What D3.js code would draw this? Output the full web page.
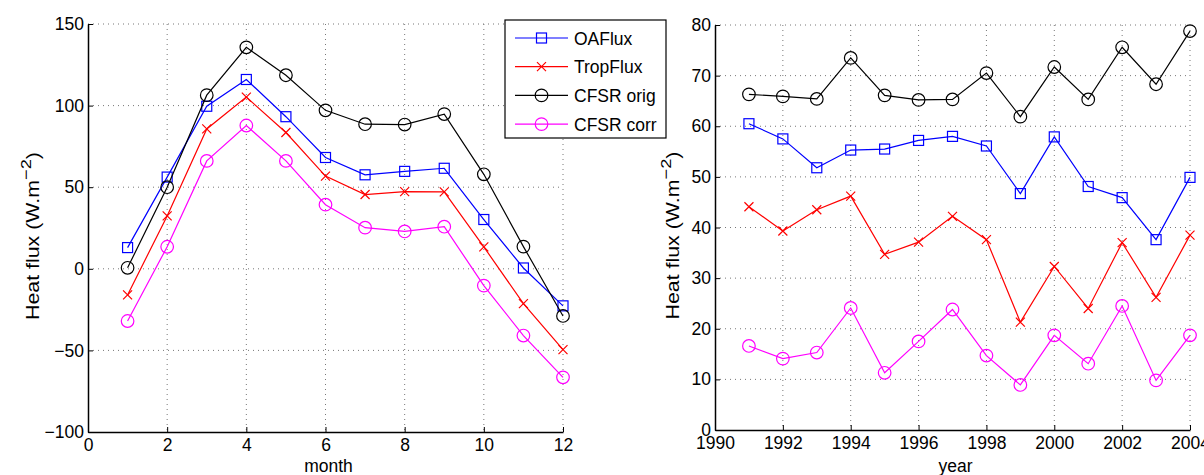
<!DOCTYPE html>
<html><head><meta charset="utf-8">
<script src="https://cdn.jsdelivr.net/npm/d3@7/dist/d3.min.js"></script>
<style>
body{margin:0;background:#fff;}
svg{display:block;font-family:"Liberation Sans",Arial,Helvetica,sans-serif;}
</style></head><body>
<svg id="c" width="1204" height="475"></svg>
<script>
// ---- data ----
const months = [1,2,3,4,5,6,7,8,9,10,11,12];
const monthOAFlux   = [13, 56.2, 99.6, 116, 93.2, 68.2, 57.6, 59.7, 61.6, 30.2, 0.5, -22.7];
const monthTropFlux = [-16, 32.4, 85.7, 105.2, 83.5, 56.8, 45.5, 47.3, 47.1, 13.4, -21.3, -49.5];
const monthCFSRorig = [0.6, 50, 106.4, 135.7, 118.6, 97.1, 88.6, 88.4, 94.8, 57.9, 13.6, -28.9];
const monthCFSRcorr = [-32, 13.5, 66.1, 87.8, 66.1, 39.3, 25.2, 22.9, 25.8, -10.3, -40.9, -66.5];

const years = [1991,1992,1993,1994,1995,1996,1997,1998,1999,2000,2001,2002,2003,2004];
const yearOAFlux   = [60.5, 57.5, 51.8, 55.3, 55.5, 57.2, 58.0, 56.1, 46.7, 57.9, 48.1, 45.9, 37.6, 49.9];
const yearTropFlux = [44.1, 39.3, 43.5, 46.2, 34.7, 37.1, 42.2, 37.6, 21.3, 32.3, 24.0, 37.0, 26.2, 38.5];
const yearCFSRorig = [66.3, 65.9, 65.4, 73.5, 66.1, 65.2, 65.3, 70.5, 61.9, 71.7, 65.3, 75.6, 68.3, 78.8];
const yearCFSRcorr = [16.6, 14.1, 15.3, 24.1, 11.3, 17.5, 23.8, 14.7, 8.9, 18.7, 13.1, 24.5, 9.8, 18.7];

const seriesNames = ["OAFlux","TropFlux","CFSR orig","CFSR corr"];
const seriesColors = ["#0000ff","#ff0000","#000000","#ff00ff"];
const seriesMarkers = ["square","x","circle","circle"];

const monthTicks = [0,2,4,6,8,10,12];
const monthYTicks = [-100,-50,0,50,100,150];
const yearTicks = [1990,1992,1994,1996,1998,2000,2002,2004];
const yearYTicks = [0,10,20,30,40,50,60,70,80];

const FS = 17.5;
const svg = d3.select("#c");

function marker(g, type, color, x, y){
  if(type==="square"){
    g.append("rect").attr("x",x-5).attr("y",y-5).attr("width",10).attr("height",10)
      .attr("fill","none").attr("stroke",color).attr("stroke-width",1.2);
  } else if(type==="circle"){
    g.append("circle").attr("cx",x).attr("cy",y).attr("r",6.3)
      .attr("fill","none").attr("stroke",color).attr("stroke-width",1.2);
  } else {
    const s=4.5;
    g.append("path").attr("d",`M${x-s},${y-s}L${x+s},${y+s}M${x-s},${y+s}L${x+s},${y-s}`)
      .attr("stroke",color).attr("stroke-width",1.2);
  }
}

function panel(cfg){
  const g = svg.append("g");
  const x = d3.scaleLinear().domain(cfg.xDomain).range([cfg.x0,cfg.x1]);
  const y = d3.scaleLinear().domain(cfg.yDomain).range([cfg.y1,cfg.y0]);
  // grid
  g.selectAll(".gx").data(cfg.xTicks.slice(1)).enter().append("line")
    .attr("x1",d=>x(d)).attr("x2",d=>x(d)).attr("y1",cfg.y0).attr("y2",cfg.y1)
    .attr("stroke","#777").attr("stroke-width",1).attr("stroke-dasharray","1,4");
  g.selectAll(".gy").data(cfg.yTicks.slice(1)).enter().append("line")
    .attr("x1",cfg.x0).attr("x2",cfg.x1).attr("y1",d=>y(d)).attr("y2",d=>y(d))
    .attr("stroke","#777").attr("stroke-width",1).attr("stroke-dasharray","1,4");
  // axes
  const xa = g.append("g").attr("transform",`translate(0,${cfg.y1})`)
    .call(d3.axisBottom(x).tickValues(cfg.xTicks).tickSizeInner(-5).tickSizeOuter(0).tickPadding(6).tickFormat(d3.format("d")));
  const ya = g.append("g").attr("transform",`translate(${cfg.x0},0)`)
    .call(d3.axisLeft(y).tickValues(cfg.yTicks).tickSizeInner(-5).tickSizeOuter(0).tickPadding(4).tickFormat(d=>d<0?"\u2212"+Math.abs(d):d));
  [xa,ya].forEach(a=>{
    a.attr("font-size",FS).attr("font-family",null);
    a.select(".domain").attr("stroke","#000").attr("stroke-width",1.5);
    a.selectAll(".tick line").attr("stroke","#000");
    a.selectAll("text").attr("font-size",FS).attr("fill","#000");
  });
  xa.selectAll("text").attr("dy","0.75em");
  // labels
  g.append("text").attr("x",(cfg.x0+cfg.x1)/2+3).attr("y",472).attr("text-anchor","middle")
    .attr("font-size",FS).text(cfg.xLabel);
  const yl = g.append("text").attr("transform",`translate(${cfg.yLabelX},${(cfg.y0+cfg.y1)/2+8}) rotate(-90) scale(1.22,1)`)
    .attr("text-anchor","middle").attr("font-size",FS);
  yl.append("tspan").text("Heat flux (W.m");
  yl.append("tspan").attr("baseline-shift","super").attr("font-size",15).text("\u22122");
  yl.append("tspan").text(")");
  // series
  const line = d3.line().x(d=>x(d[0])).y(d=>y(d[1]));
  cfg.series.forEach((vals,i)=>{
    const pts = cfg.xs.map((xv,j)=>[xv,vals[j]]);
    g.append("path").attr("d",line(pts)).attr("fill","none")
      .attr("stroke",seriesColors[i]).attr("stroke-width",1.2);
    const mg = g.append("g");
    pts.forEach(p=>marker(mg,seriesMarkers[i],seriesColors[i],x(p[0]),y(p[1])));
  });
}

panel({x0:88,x1:563,y0:24,y1:432,xDomain:[0,12],yDomain:[-100,150],
  xTicks:monthTicks,yTicks:monthYTicks,xLabel:"month",yLabelX:39,
  xs:months,series:[monthOAFlux,monthTropFlux,monthCFSRorig,monthCFSRcorr]});
panel({x0:715,x1:1190,y0:25,y1:430,xDomain:[1990,2004],yDomain:[0,80],
  xTicks:yearTicks,yTicks:yearYTicks,xLabel:"year",yLabelX:679,
  xs:years,series:[yearOAFlux,yearTropFlux,yearCFSRorig,yearCFSRcorr]});

// legend
const lg = svg.append("g");
lg.append("rect").attr("x",505).attr("y",20).attr("width",161).attr("height",118)
  .attr("fill","#fff").attr("stroke","#000").attr("stroke-width",1.2);
seriesNames.forEach((n,i)=>{
  const yy = 38 + i*28.7;
  lg.append("line").attr("x1",515).attr("x2",568).attr("y1",yy).attr("y2",yy)
    .attr("stroke",seriesColors[i]).attr("stroke-width",1.2);
  marker(lg,seriesMarkers[i],seriesColors[i],541.5,yy);
  lg.append("text").attr("x",574).attr("y",yy+6.5).attr("font-size",FS).text(n);
});
</script>
</body></html>
